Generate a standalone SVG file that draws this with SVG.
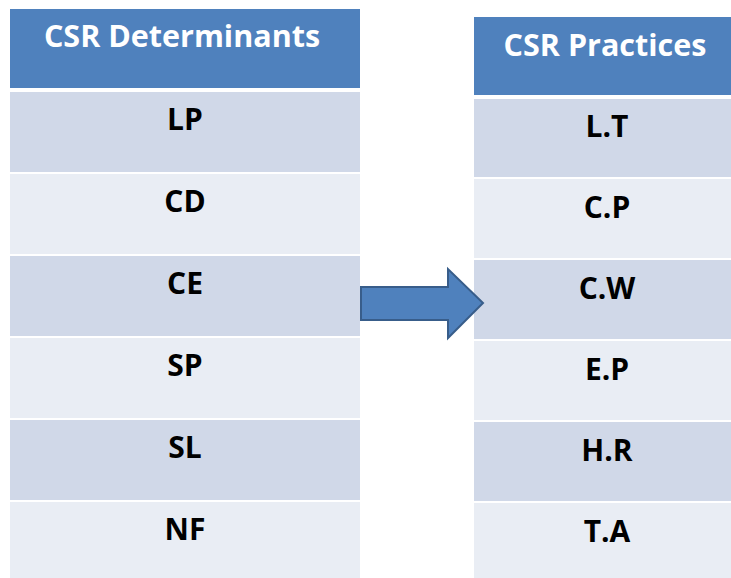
<svg xmlns="http://www.w3.org/2000/svg" width="731" height="578" viewBox="0 0 731 578">
  <style>
    .hdr { fill: #4f81bd; }
    .dark { fill: #d0d8e8; }
    .light { fill: #e9edf4; }
    .htxt { font-family: "Open Sans", "Liberation Sans", sans-serif; font-weight: bold; font-size: 30.5px; fill: #ffffff; text-anchor: middle; }
    .rtxt { font-family: "Open Sans", "Liberation Sans", sans-serif; font-weight: bold; font-size: 30px; fill: #000000; text-anchor: middle; }
  </style>
  <rect width="731" height="578" fill="#ffffff"/>

  <!-- Left table: determinants -->
  <g id="determinants">
    <g id="det-header"><rect class="hdr" x="10" y="9" width="350" height="79"/><text class="htxt" x="182" y="47">CSR Determinants</text></g>
    <g id="det-lp"><rect class="dark" x="10" y="92" width="350" height="80"/><text class="rtxt" x="185" y="130">LP</text></g>
    <g id="det-cd"><rect class="light" x="10" y="174" width="350" height="80"/><text class="rtxt" x="185" y="212">CD</text></g>
    <g id="det-ce"><rect class="dark" x="10" y="256" width="350" height="80"/><text class="rtxt" x="185" y="294">CE</text></g>
    <g id="det-sp"><rect class="light" x="10" y="338" width="350" height="80"/><text class="rtxt" x="185" y="376">SP</text></g>
    <g id="det-sl"><rect class="dark" x="10" y="420" width="350" height="80"/><text class="rtxt" x="185" y="458">SL</text></g>
    <g id="det-nf"><rect class="light" x="10" y="502" width="350" height="76"/><text class="rtxt" x="185" y="540">NF</text></g>
  </g>

  <!-- Right table: practices -->
  <g id="practices">
    <g id="prac-header"><rect class="hdr" x="474" y="17" width="270" height="78"/><text class="htxt" x="605" y="56">CSR Practices</text></g>
    <g id="prac-lt"><rect class="dark" x="474" y="99" width="270" height="78"/><text class="rtxt" x="607" y="137">L.T</text></g>
    <g id="prac-cp"><rect class="light" x="474" y="179" width="270" height="79"/><text class="rtxt" x="607" y="218">C.P</text></g>
    <g id="prac-cw"><rect class="dark" x="474" y="260" width="270" height="79"/><text class="rtxt" x="607" y="299">C.W</text></g>
    <g id="prac-ep"><rect class="light" x="474" y="341" width="270" height="79"/><text class="rtxt" x="607" y="380">E.P</text></g>
    <g id="prac-hr"><rect class="dark" x="474" y="422" width="270" height="79"/><text class="rtxt" x="607" y="461">H.R</text></g>
    <g id="prac-ta"><rect class="light" x="474" y="503" width="270" height="75"/><text class="rtxt" x="607" y="542">T.A</text></g>
  </g>

  <!-- Connector: block arrow between tables -->
  <g id="connectors">
    <path d="M361,287 L448,287 L448,269 L483,303 L448,338 L448,320 L361,320 Z" fill="#4f81bd" stroke="#385d8a" stroke-width="2" stroke-linejoin="miter"/>
  </g>
</svg>
